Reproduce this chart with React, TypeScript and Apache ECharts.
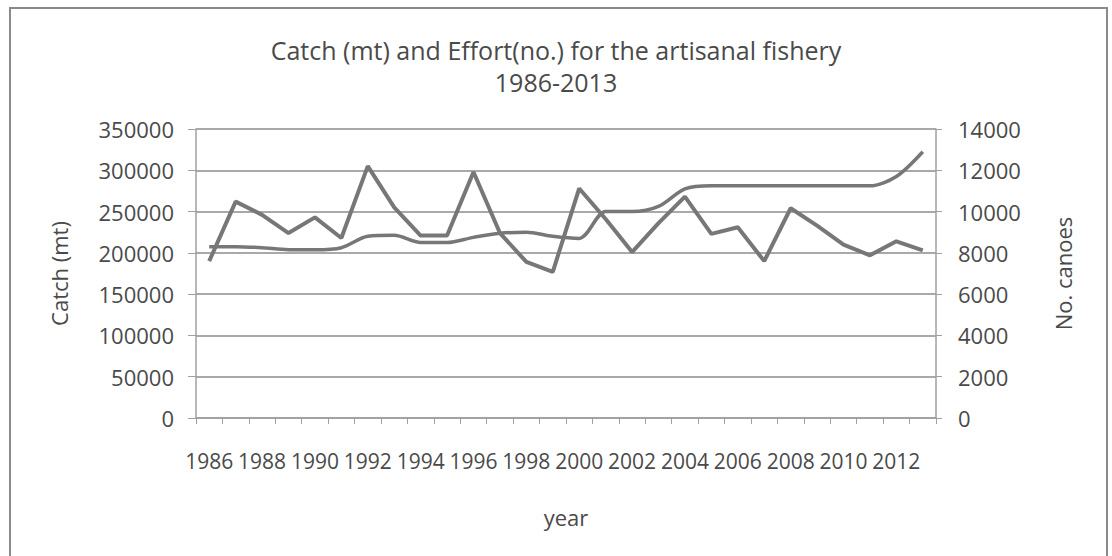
import React, { useEffect, useRef } from "react";
import * as echarts from "echarts";

const years: string[] = [
  "1986", "1987", "1988", "1989", "1990", "1991", "1992", "1993", "1994", "1995",
  "1996", "1997", "1998", "1999", "2000", "2001", "2002", "2003", "2004", "2005",
  "2006", "2007", "2008", "2009", "2010", "2011", "2012", "2013",
];

const catchMt: number[] = [
  190000, 262000, 246000, 224000, 243000, 218000, 305000, 255000, 221000, 221000,
  298000, 224000, 189000, 177000, 278000, 241000, 201000, 236000, 268000, 223000,
  231000, 190000, 254000, 233000, 210000, 197000, 214000, 203000,
];

const effortCanoes: number[] = [
  8300, 8300, 8250, 8150, 8150, 8250, 8800, 8850, 8500, 8500,
  8750, 8950, 9000, 8800, 8700, 10000, 10000, 10250, 11100, 11250,
  11250, 11250, 11250, 11250, 11250, 11250, 11700, 12900,
];

const FONT = "Open Sans";
const TXT = "#4a4a4a";
const LINE = "#777777";

const plain = (v: number) => String(v);

export default function App() {
  const ref = useRef<HTMLDivElement>(null);
  useEffect(() => {
    if (!ref.current) return;
    const chart = echarts.init(ref.current, undefined, { renderer: "svg" });
    chart.setOption({
      animation: false,
      backgroundColor: "#ffffff",
      title: {
        text: "Catch (mt) and Effort(no.) for the artisanal fishery\n1986-2013",
        left: "center",
        top: 34,
        padding: 0,
        textStyle: {
          fontFamily: FONT,
          fontSize: 25,
          fontWeight: "normal",
          color: TXT,
          lineHeight: 32,
        },
      },
      graphic: [
        {
          type: "rect",
          shape: { x: 10, y: 8, width: 1097, height: 560 },
          style: { fill: "none", stroke: "#8a8a8a", lineWidth: 2 },
          silent: true,
        },
      ],
      grid: { left: 196, right: 176, top: 129, bottom: 138 },
      xAxis: {
        type: "category",
        data: years,
        boundaryGap: true,
        name: "year",
        nameLocation: "middle",
        nameGap: 88,
        nameTextStyle: { fontFamily: FONT, fontSize: 22, color: TXT },
        axisLine: { show: true, lineStyle: { color: "#a0a0a0", width: 1.5 } },
        axisTick: { show: true, interval: 0, length: 6, lineStyle: { color: "#a0a0a0" } },
        axisLabel: {
          interval: 1,
          margin: 32,
          fontFamily: FONT,
          fontSize: 21,
          color: TXT,
        },
        splitLine: { show: false },
      },
      yAxis: [
        {
          type: "value",
          min: 0,
          max: 350000,
          interval: 50000,
          name: "Catch (mt)",
          nameLocation: "middle",
          nameGap: 126,
          nameTextStyle: { fontFamily: FONT, fontSize: 22, color: TXT },
          axisLine: { show: true, lineStyle: { color: "#a0a0a0", width: 1.5 } },
          axisTick: { show: true, length: 8, lineStyle: { color: "#a0a0a0" } },
          axisLabel: { margin: 22, fontFamily: FONT, fontSize: 22, color: TXT, formatter: plain },
          splitLine: { show: true, lineStyle: { color: "#8c8c8c", width: 1.5 } },
        },
        {
          type: "value",
          min: 0,
          max: 14000,
          interval: 2000,
          name: "No. canoes",
          nameLocation: "middle",
          nameGap: 116,
          nameRotate: 90,
          nameTextStyle: { fontFamily: FONT, fontSize: 22, color: TXT },
          axisLine: { show: true, lineStyle: { color: "#a0a0a0", width: 1.5 } },
          axisTick: { show: true, length: 6, lineStyle: { color: "#a0a0a0" } },
          axisLabel: { margin: 22, fontFamily: FONT, fontSize: 22, color: TXT, formatter: plain },
          splitLine: { show: false },
        },
      ],
      series: [
        {
          name: "Catch (mt)",
          type: "line",
          yAxisIndex: 0,
          data: catchMt,
          showSymbol: false,
          lineStyle: { color: LINE, width: 4 },
          itemStyle: { color: LINE },
        },
        {
          name: "No. canoes",
          type: "line",
          yAxisIndex: 1,
          data: effortCanoes,
          showSymbol: false,
          smooth: 0.3,
          lineStyle: { color: LINE, width: 3.5 },
          itemStyle: { color: LINE },
        },
      ],
    });
    return () => chart.dispose();
  }, []);
  return (
    <div
      ref={ref}
      style={{ position: "fixed", left: 0, top: 0, width: 1112, height: 556 }}
    />
  );
}
